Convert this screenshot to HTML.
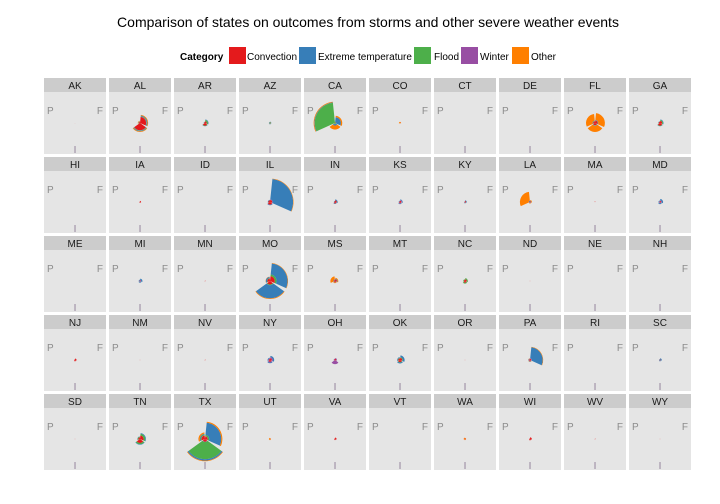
<!DOCTYPE html>
<html><head><meta charset="utf-8"><style>
html,body{margin:0;padding:0;background:#fff;}
svg{display:block;font-family:"Liberation Sans",Arial,sans-serif;}
</style></head><body>
<svg id="chart" width="720" height="504" viewBox="0 0 720 504">
<rect width="720" height="504" fill="#ffffff"/>
<text x="368" y="27" font-size="14" text-anchor="middle" fill="#000">Comparison of states on outcomes from storms and other severe weather events</text>
<g>
<text x="180" y="60" font-size="10" font-weight="bold" fill="#000">Category</text>
<rect x="229" y="47" width="17" height="17" fill="#E41A1C"/>
<text x="247" y="60" font-size="10" fill="#000">Convection</text>
<rect x="299" y="47" width="17" height="17" fill="#377EB8"/>
<text x="318" y="60" font-size="10" fill="#000">Extreme temperature</text>
<rect x="414" y="47" width="17" height="17" fill="#4DAF4A"/>
<text x="434" y="60" font-size="10" fill="#000">Flood</text>
<rect x="461" y="47" width="17" height="17" fill="#984EA3"/>
<text x="480" y="60" font-size="10" fill="#000">Winter</text>
<rect x="512" y="47" width="17" height="17" fill="#FF7F00"/>
<text x="531" y="60" font-size="10" fill="#000">Other</text>
</g>
<g id="panels"></g>
</svg>
<script>
const states = ["AK","AL","AR","AZ","CA","CO","CT","DE","FL","GA","HI","IA","ID","IL","IN","KS","KY","LA","MA","MD","ME","MI","MN","MO","MS","MT","NC","ND","NE","NH","NJ","NM","NV","NY","OH","OK","OR","PA","RI","SC","SD","TN","TX","UT","VA","VT","WA","WI","WV","WY"];
const outcomes = ["F","I","P"];
// values per state: [F, I, P] (percent of max radius)
const convection = [
[0,1,0],[28,33,5],[8,12,4],[2,2,1],[3,2,2],[2,1,1],[0,0,0],[0,0,0],[12,10,8],[10,12,6],
[0,0,0],[5,4,2],[0,0,0],[10,12,8],[8,7,3],[6,6,3],[5,4,2],[4,4,3],[2,0,2],[5,4,2],
[0,0,0],[3,3,2],[2,2,1],[22,16,12],[8,6,4],[0,0,0],[8,8,5],[1,1,1],[0,0,0],[0,0,0],
[7,6,3],[1,1,1],[2,2,1],[8,8,5],[6,3,3],[10,10,8],[1,1,1],[6,5,4],[0,0,0],[3,3,2],
[1,1,1],[16,18,8],[12,12,16],[2,2,1],[7,5,3],[0,0,0],[3,3,2],[8,6,3],[2,2,1],[1,1,1]];
const winter = [
[0,0,0],[1,1,1],[0,0,0],[1,1,1],[0,0,0],[0,0,0],[0,0,0],[0,0,0],[0,0,0],[0,0,0],
[0,0,0],[0,0,0],[0,0,0],[2,1,0],[0,0,0],[3,2,1],[0,0,0],[0,0,0],[0,0,0],[3,2,2],
[0,0,0],[2,1,1],[0,0,0],[0,0,0],[0,0,0],[0,0,0],[0,0,0],[0,0,0],[0,0,0],[0,0,0],
[0,0,0],[0,0,0],[0,0,0],[5,4,3],[3,16,3],[0,0,0],[0,0,0],[2,1,1],[0,0,0],[0,0,0],
[0,0,0],[0,0,0],[1,2,1],[0,0,0],[0,0,0],[0,0,0],[0,0,0],[0,0,0],[0,0,0],[0,0,0]];
const flood = [
[0,0,0],[2,2,1],[6,2,1],[2,2,2],[2,4,90],[0,0,0],[0,0,0],[0,0,0],[1,1,1],[4,2,1],
[0,0,0],[0,0,0],[0,0,0],[0,0,0],[0,0,0],[0,0,0],[0,0,0],[0,0,0],[0,0,0],[0,0,0],
[0,0,0],[0,0,0],[0,0,0],[8,3,2],[0,0,0],[0,0,0],[5,4,3],[0,0,0],[0,0,0],[0,0,0],
[0,0,0],[0,0,0],[0,0,0],[0,0,0],[0,0,0],[3,2,2],[0,0,0],[0,0,0],[0,0,0],[0,0,0],
[0,0,0],[8,6,3],[6,78,4],[0,0,0],[0,0,0],[0,0,0],[0,0,0],[0,0,0],[0,0,0],[0,0,0]];
const extremeTemp = [
[0,0,0],[3,2,1],[2,1,1],[1,1,1],[22,6,2],[0,0,0],[0,0,0],[0,0,0],[2,2,2],[2,1,1],
[0,0,0],[0,0,0],[0,0,0],[93,2,2],[4,2,2],[3,2,2],[3,2,1],[2,1,3],[0,0,0],[6,4,3],
[0,0,0],[6,4,3],[0,0,0],[50,60,5],[3,1,3],[0,0,0],[0,0,0],[0,0,0],[0,0,0],[0,0,0],
[0,0,0],[0,0,0],[0,0,0],[6,3,3],[0,0,0],[8,4,3],[0,0,0],[50,2,2],[0,0,0],[5,3,2],
[0,0,0],[3,2,1],[55,6,3],[0,0,0],[0,0,0],[0,0,0],[0,0,0],[0,0,0],[0,0,0],[0,0,0]];
const other = [
[0,0,0],[3,3,2],[0,0,0],[0,0,0],[6,18,3],[3,1,4],[0,0,0],[0,0,0],[30,28,30],[0,0,0],
[0,0,0],[0,0,0],[0,0,0],[2,0,0],[0,0,0],[0,0,0],[0,0,0],[3,2,40],[0,0,0],[0,0,0],
[0,0,0],[0,0,0],[0,0,0],[2,3,1],[4,3,14],[0,0,0],[0,0,0],[0,0,0],[0,0,0],[0,0,0],
[0,0,0],[0,0,0],[0,0,0],[0,0,0],[0,0,0],[0,0,0],[0,0,0],[2,1,1],[0,0,0],[0,0,0],
[0,0,0],[0,0,0],[5,3,6],[2,3,4],[0,0,0],[0,0,0],[2,2,4],[0,0,0],[0,0,0],[0,0,0]];

const series = [
  {key:"convection", vals:convection, color:"#E41A1C"},
  {key:"winter", vals:winter, color:"#984EA3"},
  {key:"flood", vals:flood, color:"#4DAF4A"},
  {key:"extreme-temperature", vals:extremeTemp, color:"#377EB8"},
  {key:"other", vals:other, color:"#FF7F00"}
];
const NS = "http://www.w3.org/2000/svg";
const g = document.getElementById("panels");
const maxR = 22, maxV = 100;
function rScale(v){ return v / maxV * maxR; }
function aScale(k, frac){ return (k + 0.05 + 0.9 * frac) * 120; }
function pt(cx, cy, r, a){ const t = a * Math.PI / 180; return [cx + r * Math.sin(t), cy - r * Math.cos(t)]; }
function wedge(cx, cy, r0, r1, a0, a1){
  const p1 = pt(cx,cy,r1,a0), p2 = pt(cx,cy,r1,a1), p3 = pt(cx,cy,r0,a1), p4 = pt(cx,cy,r0,a0);
  let d = `M${p1[0]},${p1[1]} A${r1},${r1} 0 0 1 ${p2[0]},${p2[1]} L${p3[0]},${p3[1]}`;
  if (r0 > 0) d += ` A${r0},${r0} 0 0 0 ${p4[0]},${p4[1]}`; else d += ` L${p4[0]},${p4[1]}`;
  return d + "Z";
}
function mk(tag, attrs){ const e = document.createElementNS(NS, tag); for (const k in attrs) e.setAttribute(k, attrs[k]); return e; }

states.forEach((st, i) => {
  const col = i % 10, row = Math.floor(i / 10);
  const x0 = 44 + col * 65, y0 = 78 + row * 79;
  const pg = mk("g", {});
  
  
  const strip = mk("rect", {x:x0, y:y0, width:62, height:14, fill:"#cccccc"});
  
  
  pg.appendChild(strip);
  const lab = mk("text", {x:x0+31, y:y0+11, "font-size":10, "text-anchor":"middle", fill:"#1a1a1a"});
  lab.textContent = st;
  
  
  pg.appendChild(lab);
  const bg = mk("rect", {x:x0, y:y0+14, width:62, height:62, fill:"#e5e5e5"});
  
  
  pg.appendChild(bg);
  const cx = x0 + 31, cy = y0 + 45;
  const lp = mk("text", {x:x0+3, y:y0+36, "font-size":10, fill:"#8c8c8c"}); lp.textContent = "P";
  
  
  pg.appendChild(lp);
  const lf = mk("text", {x:x0+59, y:y0+36, "font-size":10, "text-anchor":"end", fill:"#8c8c8c"}); lf.textContent = "F";
  
  
  pg.appendChild(lf);
  const li = mk("text", {x:cx, y:y0+75, "font-size":10, "text-anchor":"middle", fill:"#8f7f99"}); li.textContent = "I";
  
  
  pg.appendChild(li);
  outcomes.forEach((o, k) => {
    let cum = 0;
    const a0 = aScale(k, 0), a1 = aScale(k, 1);
    series.forEach(s => {
      const v = s.vals[i][k];
      if (v <= 0) return;
      const r0 = rScale(cum), r1 = rScale(cum + v);
      cum += v;
      const p = mk("path", {d: wedge(cx, cy, r0, r1, a0, a1), fill: s.color});
      
      
      pg.appendChild(p);
    });
  });
  g.appendChild(pg);
});
</script>
</body></html>
